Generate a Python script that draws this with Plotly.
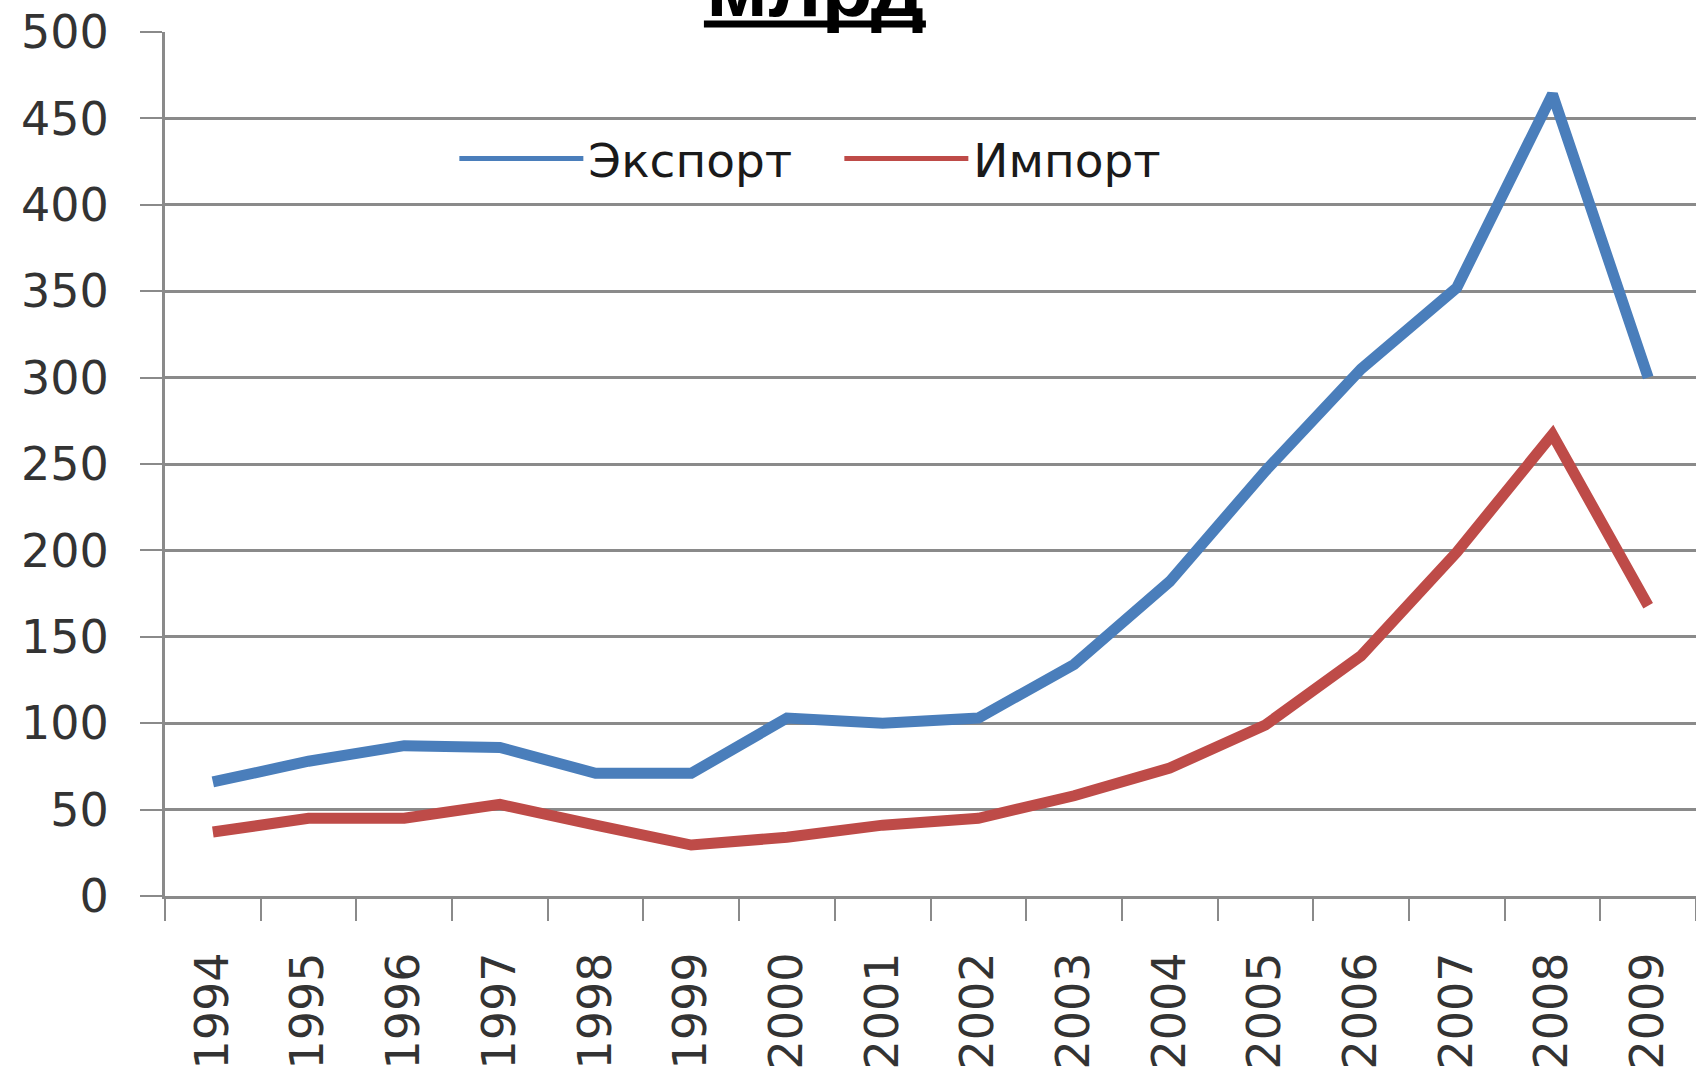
import plotly.graph_objects as go

years = [str(y) for y in range(1994, 2010)]
export_vals = [66, 78, 87, 86, 71, 71, 103, 100, 103, 134, 182, 246, 305, 352, 464, 300]
import_vals = [37, 45, 45, 53, 41, 29.5, 34, 41, 45, 58, 74, 99, 139, 199, 267, 168]
y_ticks = [0, 50, 100, 150, 200, 250, 300, 350, 400, 450, 500]

FONT = "DejaVu Sans"
TXT = "#333333"
GRID = "#8a8a8a"

fig = go.Figure()
fig.add_trace(go.Scatter(x=years, y=export_vals, name="Экспорт", mode="lines",
                         line=dict(color="#4A7EBB", width=11)))
fig.add_trace(go.Scatter(x=years, y=import_vals, name="Импорт", mode="lines",
                         line=dict(color="#BE4B48", width=11)))

fig.update_layout(
    width=1696, height=1076,
    margin=dict(l=165, r=0, t=32, b=180),
    paper_bgcolor="white", plot_bgcolor="white",
    font=dict(family=FONT, size=46, color=TXT),
    showlegend=True,
    legend=dict(orientation="h", x=0.189, y=0.853, xanchor="left", yanchor="middle",
                bgcolor="rgba(0,0,0,0)", font=dict(family=FONT, size=47, color="#1a1a1a"),
                itemwidth=124, entrywidth=246, entrywidthmode="pixels",
                tracegroupgap=0, itemsizing="constant"),
    xaxis=dict(type="category", range=[-0.5, 15.5], tickson="boundaries",
               ticks="outside", ticklen=22, tickwidth=2, tickcolor=GRID,
               showline=True, linecolor=GRID, linewidth=3,
               showgrid=False, tickangle=-90, automargin=False,
               ticklabelstandoff=35,
               tickfont=dict(family=FONT, size=46, color=TXT)),
    yaxis=dict(range=[0, 500], tickvals=y_ticks, ticks="outside", ticklen=22,
               tickwidth=2, tickcolor=GRID, showline=True, linecolor=GRID, linewidth=3,
               showgrid=True, gridcolor=GRID, gridwidth=2.5, zeroline=False,
               ticklabelstandoff=22, automargin=False,
               tickfont=dict(family=FONT, size=46, color=TXT)),
    annotations=[dict(text="<b>млрд</b>", xref="paper", yref="paper", x=0.4244, y=0.9955,
                      xanchor="center", yanchor="bottom", showarrow=False,
                      font=dict(family="Liberation Sans", size=84, color="black"))],
    shapes=[dict(type="line", xref="paper", yref="paper", x0=0.352, x1=0.497,
                 y0=1.0093, y1=1.0093, line=dict(color="black", width=7))],
)

fig.write_html("out.html", config={"displayModeBar": False},
               post_script="document.body.style.margin='0px';")
